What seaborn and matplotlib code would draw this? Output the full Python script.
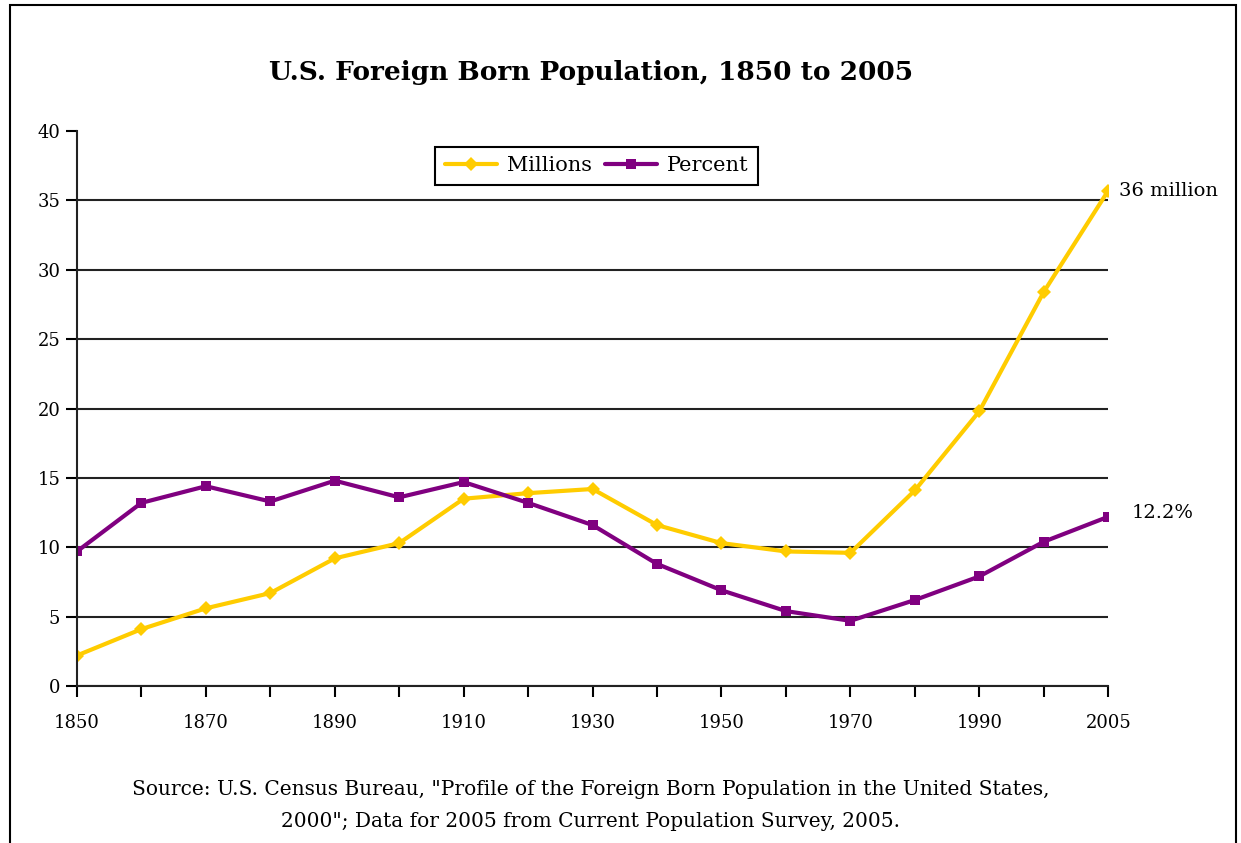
import numpy as np
import pandas as pd
import seaborn as sns
import matplotlib.pyplot as plt
from matplotlib.patches import Rectangle

# Census years (2005 is an extra point, spaced like the others)
years = ['1850', '1860', '1870', '1880', '1890', '1900', '1910', '1920', '1930',
         '1940', '1950', '1960', '1970', '1980', '1990', '2000', '2005']
millions = [2.2, 4.1, 5.6, 6.7, 9.2, 10.3, 13.5, 13.9, 14.2,
            11.6, 10.3, 9.7, 9.6, 14.1, 19.8, 28.4, 35.7]
percent = [9.7, 13.2, 14.4, 13.3, 14.8, 13.6, 14.7, 13.2, 11.6,
           8.8, 6.9, 5.4, 4.7, 6.2, 7.9, 10.4, 12.2]
tick_years = ['1850', '1870', '1890', '1910', '1930', '1950', '1970', '1990', '2005']

df = pd.DataFrame({'pos': range(len(years)), 'Millions': millions, 'Percent': percent})
long_df = df.melt(id_vars='pos', var_name='series', value_name='value')

sns.set_theme(style='white')
plt.rcParams['font.family'] = ['DejaVu Serif']
plt.rcParams['text.color'] = 'black'
plt.rcParams['xtick.color'] = 'black'
plt.rcParams['ytick.color'] = 'black'

fig = plt.figure(figsize=(12.41, 8.43), dpi=100)
ax = fig.add_axes([0.062, 0.1862, 0.831, 0.6584])

sns.lineplot(data=long_df, x='pos', y='value', hue='series', style='series',
             palette={'Millions': '#FFCC00', 'Percent': '#800080'},
             markers={'Millions': 'D', 'Percent': 's'}, dashes=False,
             markersize=7, linewidth=3, markeredgewidth=0, ax=ax)

ax.set_xlim(0, len(years) - 1)
ax.set_ylim(0, 40)
ax.set_yticks(range(0, 41, 5))
ax.set_yticklabels([str(v) for v in range(0, 41, 5)], fontsize=13)
ax.set_xticks(range(len(years)))
ax.set_xticklabels([y if y in tick_years else '' for y in years], fontsize=13)
ax.tick_params(axis='x', bottom=True, direction='out', length=8, width=1.5, color='black', pad=12)
ax.tick_params(axis='y', left=True, direction='out', length=8, width=1.5, color='black', pad=4)
ax.yaxis.grid(True, color='#222222', linewidth=1.5)
ax.get_ygridlines()[-1].set_visible(False)
ax.set_axisbelow(True)
for side in ['top', 'right']:
    ax.spines[side].set_visible(False)
for side in ['left', 'bottom']:
    ax.spines[side].set_color('#222222')
    ax.spines[side].set_linewidth(1.5)
ax.set_xlabel('')
ax.set_ylabel('')

leg = ax.legend(loc='center', bbox_to_anchor=(0.504, 0.937), ncol=2, fontsize=15,
                frameon=True, fancybox=False, handlelength=2.5, columnspacing=0.6,
                handletextpad=0.5, borderpad=0.45, framealpha=1)
leg.get_frame().set_edgecolor('black')
leg.get_frame().set_linewidth(1.5)

ax.annotate('36 million', xy=(len(years) - 1, millions[-1]), xytext=(8, 0),
            textcoords='offset points', va='center', ha='left', fontsize=14,
            annotation_clip=False)
ax.annotate('12.2%', xy=(len(years) - 1, percent[-1]), xytext=(17, 3),
            textcoords='offset points', va='center', ha='left', fontsize=14,
            annotation_clip=False)

fig.text(0.476, 0.914, 'U.S. Foreign Born Population, 1850 to 2005',
         ha='center', va='center', fontsize=19, fontweight='bold')
fig.text(0.476, 0.064, 'Source: U.S. Census Bureau, "Profile of the Foreign Born Population in the United States,',
         ha='center', va='center', fontsize=14.5)
fig.text(0.476, 0.025, '2000"; Data for 2005 from Current Population Survey, 2005.',
         ha='center', va='center', fontsize=14.5)

fig.patches.append(Rectangle((0.008, -0.01), 0.988, 1.004, transform=fig.transFigure,
                             fill=False, edgecolor='black', linewidth=1.5))

fig.savefig('out.png', dpi=100)
